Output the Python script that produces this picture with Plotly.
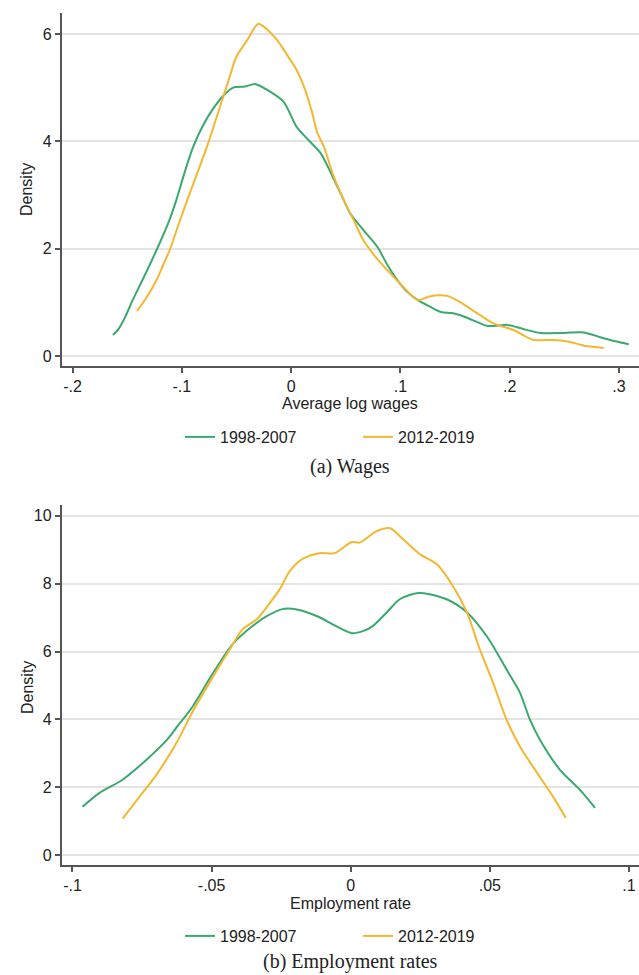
import plotly.graph_objects as go

# ---- data: kernel density estimates read as (x, density) pairs ----
wage_x_early = [-0.163, -0.158, -0.152, -0.145, -0.134, -0.123, -0.112, -0.105, -0.097, -0.090,
                -0.081, -0.072, -0.062, -0.053, -0.042, -0.033, -0.022, -0.007, 0.005, 0.016,
                0.027, 0.038, 0.046, 0.054, 0.066, 0.079, 0.088, 0.097, 0.106, 0.116,
                0.127, 0.137, 0.147, 0.155, 0.167, 0.180, 0.190, 0.198, 0.213, 0.228,
                0.250, 0.268, 0.286, 0.300, 0.309]
wage_y_early = [0.39, 0.50, 0.72, 1.04, 1.50, 1.98, 2.50, 2.91, 3.45, 3.88,
                4.28, 4.59, 4.85, 5.00, 5.02, 5.07, 4.96, 4.74, 4.27, 4.02,
                3.78, 3.34, 3.00, 2.66, 2.35, 2.03, 1.70, 1.42, 1.20, 1.04,
                0.92, 0.82, 0.80, 0.76, 0.66, 0.56, 0.57, 0.58, 0.50, 0.43,
                0.43, 0.44, 0.33, 0.26, 0.22]

wage_x_late = [-0.141, -0.132, -0.123, -0.117, -0.111, -0.103, -0.095, -0.086, -0.077, -0.065,
               -0.057, -0.050, -0.040, -0.034, -0.030, -0.026, -0.013, -0.004, 0.005, 0.013,
               0.019, 0.024, 0.030, 0.038, 0.048, 0.058, 0.066, 0.077, 0.088, 0.102,
               0.116, 0.125, 0.134, 0.143, 0.155, 0.170, 0.185, 0.204, 0.213, 0.222,
               0.240, 0.253, 0.265, 0.272, 0.286]
wage_y_late = [0.84, 1.10, 1.42, 1.70, 1.98, 2.45, 2.91, 3.40, 3.90, 4.65,
               5.15, 5.58, 5.89, 6.10, 6.19, 6.15, 5.89, 5.62, 5.33, 4.95,
               4.55, 4.16, 3.90, 3.40, 2.91, 2.50, 2.16, 1.85, 1.60, 1.30,
               1.04, 1.10, 1.13, 1.12, 1.00, 0.80, 0.61, 0.48, 0.38, 0.30,
               0.30, 0.27, 0.21, 0.18, 0.15]

emp_x_early = [-0.0964, -0.0903, -0.0820, -0.0734, -0.0660, -0.0626, -0.0568, -0.0496, -0.0424, -0.0353,
               -0.0302, -0.0245, -0.0194, -0.0112, -0.0065, 0.0004, 0.0043, 0.0079, 0.0130, 0.0176,
               0.0237, 0.0284, 0.0345, 0.0417, 0.0489, 0.0560, 0.0608, 0.0644, 0.0680, 0.0752,
               0.0824, 0.0878]
emp_y_early = [1.42, 1.83, 2.22, 2.81, 3.40, 3.76, 4.38, 5.35, 6.22, 6.75,
               7.04, 7.25, 7.24, 7.01, 6.80, 6.54, 6.60, 6.75, 7.16, 7.54,
               7.72, 7.69, 7.54, 7.16, 6.45, 5.47, 4.79, 3.99, 3.40, 2.51,
               1.92, 1.39]

emp_x_late = [-0.0820, -0.0759, -0.0698, -0.0626, -0.0568, -0.0507, -0.0435, -0.0388, -0.0338, -0.0302,
              -0.0255, -0.0219, -0.0173, -0.0112, -0.0058, 0.0004, 0.0032, 0.0093, 0.0140, 0.0187,
              0.0248, 0.0309, 0.0367, 0.0417, 0.0464, 0.0511, 0.0560, 0.0608, 0.0669, 0.0727,
              0.0773]
emp_y_late = [1.07, 1.72, 2.37, 3.31, 4.23, 5.09, 6.06, 6.66, 6.95, 7.31,
              7.84, 8.37, 8.73, 8.90, 8.90, 9.23, 9.21, 9.55, 9.64, 9.32,
              8.87, 8.58, 7.93, 7.16, 6.06, 5.09, 3.99, 3.20, 2.43, 1.72,
              1.09]

period_labels = ["1998-2007", "2012-2019"]

wage_tickvals = [-0.2, -0.1, 0, 0.1, 0.2, 0.3]
wage_ticktext = ["-.2", "-.1", "0", ".1", ".2", ".3"]
wage_ytickvals = [0, 2, 4, 6]

emp_tickvals = [-0.1, -0.05, 0, 0.05, 0.1]
emp_ticktext = ["-.1", "-.05", "0", ".05", ".1"]
emp_ytickvals = [0, 2, 4, 6, 8, 10]

# ---- styling ----
GREEN = "#3aa86f"
YELLOW = "#f4b731"
AXIS = "#555555"
GRID = "#e3e3e3"
SANS = "Liberation Sans, Arial, sans-serif"
SERIF = "Liberation Serif, Times New Roman, serif"
W, H = 639, 975

fig = go.Figure()

def add_line(x, y, color, name, xa, ya, legend):
    fig.add_trace(go.Scatter(
        x=x, y=y, mode="lines", name=name,
        line=dict(color=color, width=2, shape="spline", smoothing=0.8),
        xaxis=xa, yaxis=ya, legend=legend, hoverinfo="skip",
    ))

add_line(wage_x_early, wage_y_early, GREEN, period_labels[0], "x", "y", "legend")
add_line(wage_x_late, wage_y_late, YELLOW, period_labels[1], "x", "y", "legend")
add_line(emp_x_early, emp_y_early, GREEN, period_labels[0], "x2", "y2", "legend2")
add_line(emp_x_late, emp_y_late, YELLOW, period_labels[1], "x2", "y2", "legend2")

x_left = 61.5 / W
top_dom = [1 - 366 / H, 1 - 13 / H]
bot_dom = [1 - 865 / H, 1 - 505 / H]

common_x = dict(
    showline=True, linecolor=AXIS, linewidth=1.5, ticks="outside", ticklen=5,
    tickcolor=AXIS, tickwidth=1.5, showgrid=False, zeroline=False,
    tickfont=dict(family=SANS, size=16, color="#222222"), domain=[x_left, 1],
)
common_y = dict(
    showline=True, linecolor=AXIS, linewidth=1.5, ticks="outside", ticklen=5,
    tickcolor=AXIS, tickwidth=1.5, showgrid=True, gridcolor=GRID, gridwidth=1.5,
    zeroline=False, tickfont=dict(family=SANS, size=16, color="#222222"),
)

legend_common = dict(
    orientation="h", xanchor="center", yanchor="middle",
    font=dict(family=SANS, size=16, color="#222222"),
    bgcolor="rgba(0,0,0,0)", entrywidth=133, entrywidthmode="pixels",
    traceorder="normal",
)

fig.update_layout(
    width=W, height=H,
    margin=dict(l=0, r=0, t=0, b=0),
    paper_bgcolor="white", plot_bgcolor="white",
    xaxis=dict(common_x, range=[-0.2101, 0.3183], tickvals=wage_tickvals,
               ticktext=wage_ticktext, anchor="y"),
    yaxis=dict(common_y, range=[-0.186, 6.391], tickvals=wage_ytickvals,
               domain=top_dom, anchor="x"),
    xaxis2=dict(common_x, range=[-0.10395, 0.1036], tickvals=emp_tickvals,
                ticktext=emp_ticktext, anchor="y2"),
    yaxis2=dict(common_y, range=[-0.295, 10.32], tickvals=emp_ytickvals,
                domain=bot_dom, anchor="x2"),
    legend=dict(legend_common, x=358 / W, y=1 - 437 / H),
    legend2=dict(legend_common, x=358 / W, y=1 - 936 / H),
    showlegend=True,
)

def text(s, x, y, size, family, angle=0):
    fig.add_annotation(text=s, x=x, y=y, xref="paper", yref="paper",
                       xanchor="center", yanchor="middle", showarrow=False,
                       textangle=angle, font=dict(family=family, size=size, color="#222222"))

# axis titles
text("Average log wages", 350 / W, 1 - 403 / H, 16, SANS)
text("Employment rate", 350 / W, 1 - 903 / H, 16, SANS)
text("Density", 27 / W, 1 - 190 / H, 16, SANS, -90)
text("Density", 27 / W, 1 - 688 / H, 16, SANS, -90)

# panel captions
text("(a) Wages", 350 / W, 1 - 467 / H, 20, SERIF)
text("(b) Employment rates", 350 / W, 1 - 961 / H, 20, SERIF)

fig.write_html("out.html")
